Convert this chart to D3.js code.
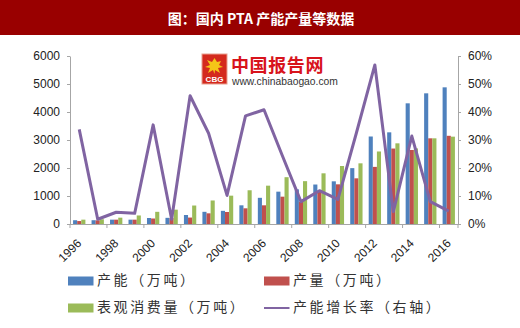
<!DOCTYPE html>
<html>
<head>
<meta charset="utf-8">
<script src="https://cdn.jsdelivr.net/npm/d3@7"></script>
<style>
  html, body { margin: 0; padding: 0; background: #fff; }
  svg { display: block; }
</style>
</head>
<body>
<svg id="chart" width="520" height="328"></svg>
<script>
// Domestic PTA capacity, output and apparent consumption, 1996-2016
const years = ["1996","1997","1998","1999","2000","2001","2002","2003","2004","2005","2006",
               "2007","2008","2009","2010","2011","2012","2013","2014","2015","2016"];
const capacity    = [135, 135, 155, 155, 214, 220, 321, 435, 470, 667, 935, 1155, 1238, 1410, 1524, 1995, 3125, 3274, 4310, 4667, 4881];
const output      = [105, 131, 155, 155, 196, 210, 230, 381, 429, 560, 667, 976, 800, 1180, 1417, 1631, 2040, 2695, 2643, 3060, 3150];
const consumption = [155, 170, 226, 305, 435, 512, 660, 840, 1012, 1205, 1369, 1672, 1530, 1810, 2071, 2167, 2590, 2881, 2700, 3060, 3119];
const growthRate  = [33.8, 1.7, 4.2, 3.8, 35.4, 1.7, 45.8, 32.4, 10.2, 38.6, 40.8, 24.3, 8.0, 11.9, 8.8, 32.5, 56.8, 4.4, 31.4, 8.0, 4.6];
const leftTicks  = [0, 1000, 2000, 3000, 4000, 5000, 6000];
const rightTicks = [0, 10, 20, 30, 40, 50, 60];
const seriesNames = ["产能（万吨）", "产量（万吨）", "表观消费量（万吨）", "产能增长率（右轴）"];
const colors = ["#4F81BD", "#C0504D", "#9BBB59", "#8064A2"];

const svg = d3.select("#chart");
const W = 520;
const plot = { left: 70, right: 458, top: 56, bottom: 224 };
const axisColor = "#a6a6a6";
const textColor = "#222";
const latin = "'Liberation Sans', Arial, sans-serif";
const cjk = "'Noto Sans CJK SC', sans-serif";

// Title banner
svg.append("rect").attr("x", 0).attr("y", 0).attr("width", W).attr("height", 35).attr("fill", "#990000");
svg.append("text")
  .attr("x", 261).attr("y", 20)
  .attr("text-anchor", "middle").attr("dominant-baseline", "middle")
  .attr("fill", "#fff")
  .attr("font-family", cjk)
  .attr("font-weight", "bold").attr("font-size", 14)
  .text("图：国内 PTA 产能产量等数据");

// Scales
const x0 = d3.scaleBand().domain(years).range([plot.left, plot.right])
  .paddingInner(1 / 3).paddingOuter(1 / 6);
const x1 = d3.scaleBand().domain([0, 1, 2]).range([0, x0.bandwidth()]);
const yL = d3.scaleLinear().domain([0, 6000]).range([plot.bottom, plot.top]);
const yR = d3.scaleLinear().domain([0, 60]).range([plot.bottom, plot.top]);

// Watermark logo
const logo = svg.append("g").attr("transform", "translate(202,54)");
logo.append("rect").attr("width", 25).attr("height", 30).attr("fill", "#d42a1e").attr("stroke", "#e8a090").attr("stroke-width", 1);
logo.append("path")
  .attr("d", "M12.5,4 L15,8 L19,7 L17,11 L21,13 L16,14 L18,19 L13,16 L12.5,20 L11,16 L6,19 L8,14 L3,13 L8,11 L5,6 L10,8 Z")
  .attr("fill", "#f5c518");
logo.append("text").attr("x", 12.5).attr("y", 28).attr("text-anchor", "middle")
  .attr("fill", "#fff").attr("font-family", latin).attr("font-weight", "bold")
  .attr("font-size", 8).text("CBG");
svg.append("text").attr("x", 231).attr("y", 72)
  .attr("fill", "#d8141c").attr("font-family", cjk)
  .attr("font-weight", "bold").attr("font-size", 18).attr("letter-spacing", 0.6)
  .text("中国报告网");
svg.append("text").attr("x", 232).attr("y", 85)
  .attr("fill", "#333").attr("font-family", latin)
  .attr("font-size", 10.3)
  .text("www.chinabaogao.com");

// Bars
const barSeries = [capacity, output, consumption];
barSeries.forEach((vals, si) => {
  svg.append("g").selectAll("rect").data(years).join("rect")
    .attr("x", (d) => x0(d) + x1(si))
    .attr("y", (d, i) => yL(vals[i]))
    .attr("width", x1.bandwidth())
    .attr("height", (d, i) => yL(0) - yL(vals[i]))
    .attr("fill", colors[si]);
});

// Growth-rate line on the right axis
const line = d3.line()
  .x((d, i) => x0(years[i]) + x0.bandwidth() / 2)
  .y((d) => yR(d));
svg.append("path").datum(growthRate)
  .attr("d", line).attr("fill", "none")
  .attr("stroke", colors[3]).attr("stroke-width", 3).attr("stroke-linejoin", "round");

// Left axis
const axL = svg.append("g").attr("transform", `translate(${plot.left},0)`)
  .call(d3.axisLeft(yL).tickValues(leftTicks).tickSize(3).tickSizeOuter(0).tickPadding(7)
    .tickFormat(d3.format("d")));
// Right axis
const axR = svg.append("g").attr("transform", `translate(${plot.right},0)`)
  .call(d3.axisRight(yR).tickValues(rightTicks).tickSize(3).tickSizeOuter(0).tickPadding(7)
    .tickFormat((d) => d + "%"));
[axL, axR].forEach((ax) => {
  ax.select(".domain").attr("stroke", axisColor);
  ax.selectAll(".tick line").attr("stroke", axisColor);
  ax.selectAll(".tick text").attr("fill", textColor)
    .attr("font-family", latin).attr("font-size", 12);
});

// Bottom axis: baseline, ticks between every second year, slanted labels
const step = x0.step();
const gx = svg.append("g");
gx.append("line").attr("x1", plot.left).attr("x2", plot.right)
  .attr("y1", plot.bottom + 0.5).attr("y2", plot.bottom + 0.5).attr("stroke", axisColor);
const labelYears = years.filter((d, i) => i % 2 === 0);
gx.selectAll("line.tk").data(labelYears.concat(["end"])).join("line").attr("class", "tk")
  .attr("x1", (d) => d === "end" ? plot.right : x0(d) - step / 6)
  .attr("x2", (d) => d === "end" ? plot.right : x0(d) - step / 6)
  .attr("y1", plot.bottom).attr("y2", plot.bottom + 4).attr("stroke", axisColor);
gx.selectAll("text").data(labelYears).join("text")
  .attr("transform", (d) => `translate(${x0(d) + x0.bandwidth() / 2 - 3},${plot.bottom + 14}) rotate(-45)`)
  .attr("text-anchor", "end").attr("dy", "0.7em")
  .attr("fill", textColor).attr("font-family", latin).attr("font-size", 12)
  .text((d) => d);

// Legend
const legendPos = [[68, 281], [264, 281], [68, 308], [264, 308]];
const lg = svg.append("g");
seriesNames.forEach((name, i) => {
  const [lx, ly] = legendPos[i];
  if (i < 3) {
    lg.append("rect").attr("x", lx).attr("y", ly - 4.5).attr("width", 25.5).attr("height", 9).attr("fill", colors[i]);
  } else {
    lg.append("line").attr("x1", lx).attr("x2", lx + 25.5).attr("y1", ly).attr("y2", ly)
      .attr("stroke", colors[i]).attr("stroke-width", 2);
  }
  lg.append("text").attr("x", lx + 29).attr("y", ly)
    .attr("dominant-baseline", "middle")
    .attr("fill", "#333").attr("font-family", cjk)
    .attr("font-size", 14).attr("letter-spacing", 2.6)
    .text(name);
});
</script>
</body>
</html>
